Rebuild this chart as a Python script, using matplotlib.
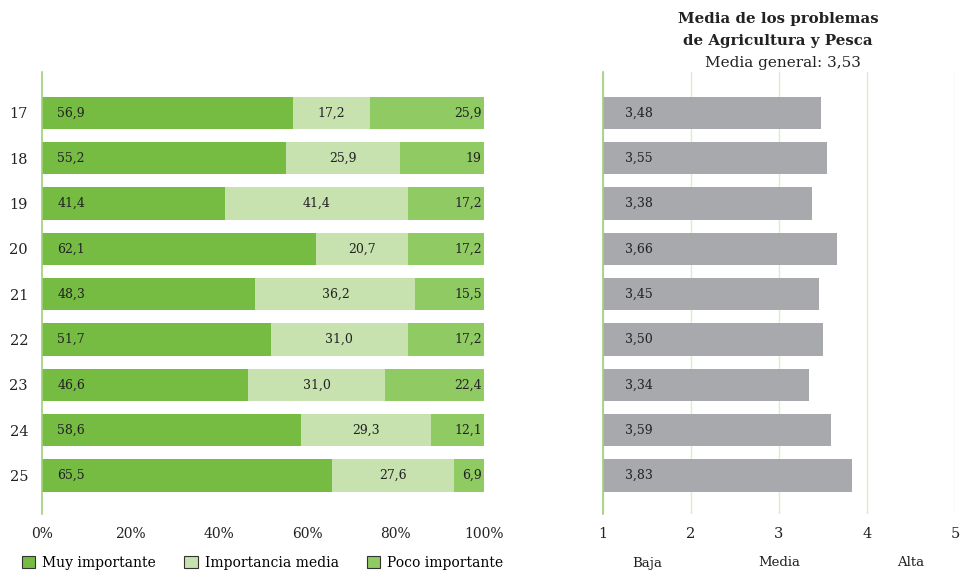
import matplotlib.pyplot as plt
from matplotlib.patches import Patch

plt.rcParams['font.family'] = ['DejaVu Serif']

years = ["17", "18", "19", "20", "21", "22", "23", "24", "25"]
muy = [56.9, 55.2, 41.4, 62.1, 48.3, 51.7, 46.6, 58.6, 65.5]
media = [17.2, 25.9, 41.4, 20.7, 36.2, 31.0, 31.0, 29.3, 27.6]
poco = [25.9, 19.0, 17.2, 17.2, 15.5, 17.2, 22.4, 12.1, 6.9]
poco_labels = ["25,9", "19", "17,2", "17,2", "15,5", "17,2", "22,4", "12,1", "6,9"]
medias = [3.48, 3.55, 3.38, 3.66, 3.45, 3.50, 3.34, 3.59, 3.83]
escala = ["Baja", "Media", "Alta"]
escala_pos = [1.5, 3, 4.5]

c_muy = "#76bc43"
c_media = "#c7e1af"
c_poco = "#8fca63"
c_grey = "#a8a9ac"
c_spine = "#9fd07a"
c_grid = "#dcecc9"
c_text = "#222222"


def fmt(v, d=1):
    return f"{v:.{d}f}".replace(".", ",")


fig = plt.figure(figsize=(9.61, 5.72), dpi=100)
ax1 = fig.add_axes([42 / 961, 1 - 514 / 572, 442 / 961, 442 / 572])
ax2 = fig.add_axes([603 / 961, 1 - 514 / 572, 352 / 961, 442 / 572])

y = list(range(len(years)))
h = 0.71

ax1.barh(y, muy, height=h, color=c_muy)
ax1.barh(y, media, left=muy, height=h, color=c_media)
left3 = [a + b for a, b in zip(muy, media)]
ax1.barh(y, poco, left=left3, height=h, color=c_poco)

for i in y:
    ax1.text(3.5, i, fmt(muy[i]), va="center", ha="left", fontsize=9, color=c_text)
    ax1.text(muy[i] + media[i] / 2, i, fmt(media[i]), va="center", ha="center",
             fontsize=9, color=c_text)
    ax1.text(99.5, i, poco_labels[i], va="center", ha="right", fontsize=9, color=c_text)

ax1.set_xlim(0, 100)
ax1.set_ylim(8.85, -0.9)
ax1.set_yticks(y)
ax1.set_yticklabels(years, fontsize=10.5, color=c_text)
ax1.set_xticks([0, 20, 40, 60, 80, 100])
ax1.set_xticklabels(["0%", "20%", "40%", "60%", "80%", "100%"], fontsize=10, color=c_text)
ax1.tick_params(length=0, pad=9)
ax1.tick_params(axis="y", pad=10)
for s in ["top", "right", "bottom"]:
    ax1.spines[s].set_visible(False)
ax1.spines["left"].set_color(c_spine)
ax1.spines["left"].set_linewidth(1.2)

# panel derecho: medias
ax2.set_axisbelow(True)
ax2.xaxis.grid(True, color=c_grid, linewidth=1)
ax2.barh(y, [m - 1 for m in medias], left=1, height=h, color=c_grey)
for i in y:
    ax2.text(1.25, i, fmt(medias[i], 2), va="center", ha="left", fontsize=9, color=c_text)
ax2.set_xlim(1, 5)
ax2.set_ylim(8.85, -0.9)
ax2.set_yticks([])
ax2.set_xticks([1, 2, 3, 4, 5])
ax2.set_xticklabels(["1", "2", "3", "4", "5"], fontsize=10.5, color=c_text)
ax2.tick_params(length=0, pad=9)
for s in ["top", "right", "bottom"]:
    ax2.spines[s].set_visible(False)
ax2.spines["left"].set_color(c_spine)
ax2.spines["left"].set_linewidth(1.2)

for lab, pos in zip(escala, escala_pos):
    ax2.text(pos, 1 - (563 - 72) / 442, lab, transform=ax2.get_xaxis_transform(),
             ha="center", va="center", fontsize=9.5, color=c_text)

fig.text(778 / 961, 1 - 30 / 572, "Media de los problemas\nde Agricultura y Pesca",
         ha="center", va="center", fontsize=10.8, fontweight="bold", color=c_text,
         linespacing=1.7)
fig.text(783 / 961, 1 - 63 / 572, "Media general: 3,53", ha="center", va="center",
         fontsize=11, color=c_text)

handles = [Patch(facecolor=c, edgecolor="#333333", linewidth=0.8)
           for c in [c_muy, c_media, c_poco]]
fig.legend(handles, ["Muy importante", "Importancia media", "Poco importante"],
           loc="center left", bbox_to_anchor=(16 / 961, 1 - 563 / 572), ncol=3,
           frameon=False, fontsize=10, handlelength=1.0, handleheight=1.0,
           handletextpad=0.5, columnspacing=2.0, borderaxespad=0)

fig.savefig("out.png", dpi=100)
